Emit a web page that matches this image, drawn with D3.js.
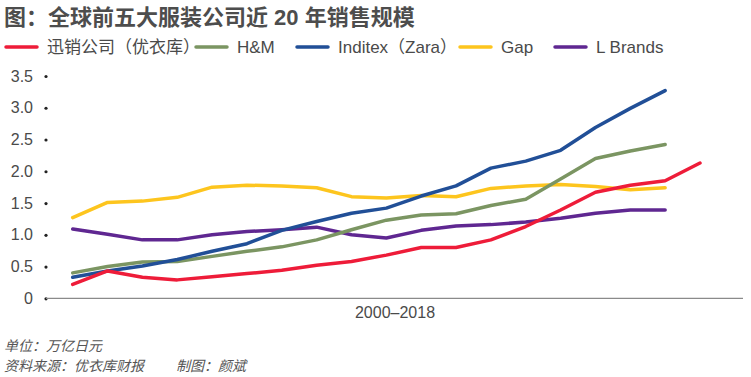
<!DOCTYPE html>
<html>
<head>
<meta charset="utf-8">
<script src="https://cdn.jsdelivr.net/npm/d3@7"></script>
<style>
    body { margin: 0; background: #fff; }
    #chart-area { width: 751px; height: 377px; }
    text { font-family: "Liberation Sans", "Noto Sans CJK SC", sans-serif; }
</style>
</head>
<body>
<div id="chart-area"></div>
<script>

// years on the x axis
const years = d3.range(2000, 2019);

// series names as in the legend
const seriesNames = ["迅销公司（优衣库）", "H&M", "Inditex（Zara）", "Gap", "L Brands"];
const seriesColors = ["#ee1c39", "#7b9562", "#214f97", "#fdc51e", "#5f2791"];

// sales, trillion yen
const uniqlo = [0.22, 0.43, 0.33, 0.29, 0.34, 0.39, 0.44, 0.52, 0.58, 0.68, 0.80, 0.80, 0.92, 1.13, 1.39, 1.67, 1.78, 1.85, 2.13];
const hm = [0.40, 0.50, 0.57, 0.58, 0.66, 0.74, 0.81, 0.92, 1.08, 1.23, 1.31, 1.33, 1.46, 1.56, 1.88, 2.20, 2.32, 2.42];
const inditex = [0.33, 0.43, 0.51, 0.61, 0.74, 0.86, 1.07, 1.21, 1.34, 1.42, 1.61, 1.77, 2.05, 2.16, 2.33, 2.69, 2.99, 3.27];
const gap = [1.27, 1.51, 1.53, 1.59, 1.75, 1.78, 1.77, 1.74, 1.60, 1.58, 1.62, 1.60, 1.73, 1.77, 1.79, 1.76, 1.71, 1.74];
const lbrands = [1.09, 1.01, 0.92, 0.92, 1.00, 1.05, 1.08, 1.12, 1.00, 0.95, 1.07, 1.14, 1.16, 1.20, 1.26, 1.34, 1.39, 1.39];

const yTicks = [0, 0.5, 1.0, 1.5, 2.0, 2.5, 3.0, 3.5];
const yTickLabels = ["0", "0.5", "1.0", "1.5", "2.0", "2.5", "3.0", "3.5"];

const titleText = "图：全球前五大服装公司近 20 年销售规模";
const xLabel = "2000–2018";
const notes = ["单位：万亿日元", "资料来源：优衣库财报　　 制图：颜斌"];

class SalesVis {

    constructor(_parentElement, _series) {
        this.parentElement = _parentElement;
        this.series = _series;
        this.initVis();
    }

    initVis() {
        let vis = this;

        vis.width = 751;
        vis.height = 377;

        vis.svg = d3.select("#" + vis.parentElement).append("svg")
            .attr("width", vis.width)
            .attr("height", vis.height);

        vis.xScale = d3.scalePoint()
            .domain(years)
            .range([72.7, 700]);

        vis.yScale = d3.scaleLinear()
            .domain([0, 3.5])
            .range([298.3, 76]);

        // title
        vis.svg.append("text")
            .attr("x", 4)
            .attr("y", 25)
            .attr("font-size", 22)
            .attr("font-weight", "bold")
            .attr("fill", "#4d4d4d")
            .text(titleText);

        // legend
        let legendX = [6, 196, 297, 460, 555];
        let legend = vis.svg.append("g")
            .selectAll("g")
            .data(vis.series)
            .join("g")
            .attr("transform", (d, i) => "translate(" + legendX[i] + ",47)");

        legend.append("line")
            .attr("x1", 0).attr("x2", 31)
            .attr("stroke", d => d.color)
            .attr("stroke-width", 3.5)
            .attr("stroke-linecap", "round");

        legend.append("text")
            .attr("x", 41)
            .attr("y", 6)
            .attr("font-size", 17)
            .attr("fill", "#4a4a4a")
            .text(d => d.name);

        // y axis: dots instead of tick lines
        vis.yAxis = d3.axisLeft(vis.yScale)
            .tickValues(yTicks)
            .tickFormat((d, i) => yTickLabels[i])
            .tickSize(0)
            .tickPadding(13);

        vis.svg.append("g")
            .attr("class", "axis y-axis")
            .attr("transform", "translate(46,0)")
            .call(vis.yAxis)
            .call(g => g.select(".domain").remove())
            .call(g => g.selectAll(".tick text")
                .attr("font-size", 16)
                .attr("font-family", "Liberation Sans, sans-serif")
                .attr("fill", "#4a4a4a"))
            .call(g => g.selectAll(".tick").append("circle")
                .attr("r", 1.6)
                .attr("fill", "#222"));

        // x axis baseline
        vis.svg.append("line")
            .attr("x1", 46)
            .attr("x2", 743)
            .attr("y1", vis.yScale(0))
            .attr("y2", vis.yScale(0))
            .attr("stroke", "#8a8a8a")
            .attr("stroke-width", 1.3);

        vis.svg.append("text")
            .attr("x", 395)
            .attr("y", 318)
            .attr("text-anchor", "middle")
            .attr("font-size", 16)
            .attr("fill", "#4a4a4a")
            .text(xLabel);

        // footnotes
        vis.svg.append("g")
            .selectAll("text")
            .data(notes)
            .join("text")
            .attr("x", 4)
            .attr("y", (d, i) => 351 + i * 20)
            .attr("font-size", 14)
            .attr("font-style", "italic")
            .attr("fill", "#555")
            .text(d => d);

        vis.updateVis();
    }

    updateVis() {
        let vis = this;

        vis.line = d3.line()
            .x((d, i) => vis.xScale(years[i]))
            .y(d => vis.yScale(d));

        // draw order: Gap, L Brands, H&M, Inditex, Uniqlo on top
        let order = [3, 4, 1, 2, 0];

        vis.svg.append("g")
            .attr("fill", "none")
            .attr("stroke-width", 3.5)
            .attr("stroke-linejoin", "round")
            .attr("stroke-linecap", "round")
            .selectAll("path")
            .data(order.map(i => vis.series[i]))
            .join("path")
            .attr("stroke", d => d.color)
            .attr("d", d => vis.line(d.values));
    }
}

let seriesValues = [uniqlo, hm, inditex, gap, lbrands];
let series = seriesNames.map((name, i) => ({name: name, color: seriesColors[i], values: seriesValues[i]}));

new SalesVis("chart-area", series);

</script>
</body>
</html>
